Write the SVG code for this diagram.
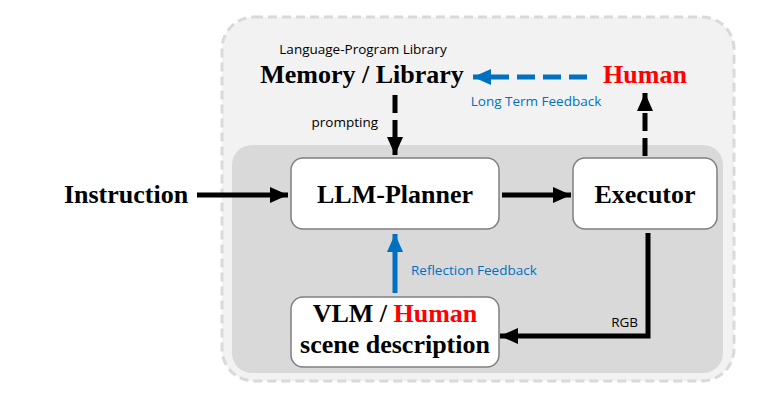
<svg xmlns="http://www.w3.org/2000/svg" width="769" height="406" viewBox="0 0 769 406">
<style>
.box{fill:#fff;stroke:#7f7f7f;stroke-width:1.5}
.big{font-family:"Liberation Serif",serif;font-weight:bold;font-size:26px;text-anchor:middle}
.sm{font-family:"Open Sans","Liberation Sans",sans-serif;font-size:13.5px}
.blk{stroke:#000;stroke-width:5;fill:none}
.blu{stroke:#0070c0;stroke-width:5;fill:none}
</style>
<defs>
<marker id="ah" markerUnits="userSpaceOnUse" markerWidth="20" markerHeight="16" refX="18" refY="8" orient="auto"><path d="M0,0 L18,8 L0,16 Z" fill="#000"/></marker>
<marker id="ahb" markerUnits="userSpaceOnUse" markerWidth="20" markerHeight="16" refX="18" refY="8" orient="auto"><path d="M0,0 L18,8 L0,16 Z" fill="#0070c0"/></marker>
</defs>
<rect x="0" y="0" width="769" height="406" fill="#fff"/>
<rect x="222" y="17" width="512" height="364" rx="32" fill="#f2f2f2" stroke="#d9d9d9" stroke-width="3" stroke-dasharray="9 5"/>
<rect x="232" y="145" width="491" height="228" rx="20" fill="#d9d9d9"/>
<g id="memory">
<text class="sm" x="363" y="54" text-anchor="middle">Language-Program Library</text>
<text class="big" x="362" y="83" font-size="27">Memory / Library</text>
</g>
<g id="human">
<text class="big" x="645" y="83" fill="#ff0000">Human</text>
</g>
<g id="instruction">
<text class="big" x="126" y="203">Instruction</text>
</g>
<g id="planner">
<rect class="box" x="291" y="158" width="208" height="71" rx="12"/>
<text class="big" x="395" y="203">LLM-Planner</text>
</g>
<g id="executor">
<rect class="box" x="573" y="158" width="144" height="71" rx="12"/>
<text class="big" x="645" y="203">Executor</text>
</g>
<g id="vlm">
<rect class="box" x="291" y="297" width="208" height="70" rx="12"/>
<text class="big" x="395" y="322">VLM / <tspan fill="#ff0000">Human</tspan></text>
<text class="big" x="395" y="353">scene description</text>
</g>
<g id="connectors">
<path class="blk" d="M197,195 H288" marker-end="url(#ah)"/>
<path class="blk" d="M502,195 H571" marker-end="url(#ah)"/>
<path class="blk" d="M395,95 V155" stroke-dasharray="18 7" marker-end="url(#ah)"/>
<path class="blk" d="M645,156 V93" stroke-dasharray="18 7" marker-end="url(#ah)"/>
<path class="blu" d="M587,77 H473" stroke-dasharray="18 8" marker-end="url(#ahb)"/>
<path class="blu" d="M395,293 V234" marker-end="url(#ahb)"/>
<path class="blk" d="M648,233 V336 H500" marker-end="url(#ah)"/>
<text class="sm" x="378" y="127" text-anchor="end">prompting</text>
<text class="sm" x="536" y="106" text-anchor="middle" fill="#0070c0">Long Term Feedback</text>
<text class="sm" x="411" y="275" fill="#0070c0">Reflection Feedback</text>
<text class="sm" x="638" y="327" text-anchor="end">RGB</text>
</g>
</svg>
